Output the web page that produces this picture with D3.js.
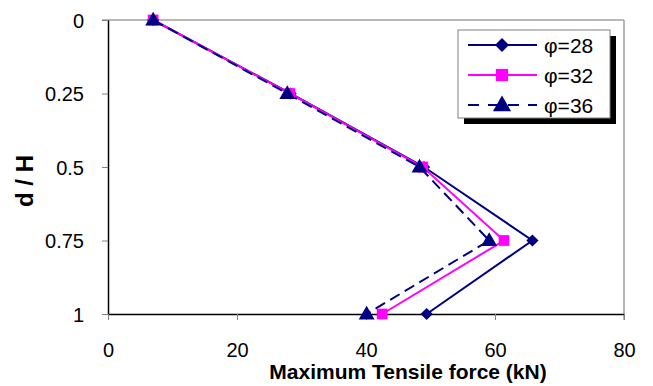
<!DOCTYPE html>
<html>
<head>
<meta charset="utf-8">
<script src="https://cdn.jsdelivr.net/npm/d3@7"></script>
<style>
  body { margin: 0; background: #fff; }
  svg { display: block; font-family: Arial, "Liberation Sans", sans-serif; }
</style>
</head>
<body>
<div id="chart"></div>
<script>
// depth ratio d/H
var depths = [0, 0.25, 0.5, 0.75, 1];
// max tensile force (kN) per friction angle
var phi28 = [7, 28.3, 49, 65.8, 49.4];
var phi32 = [7, 28.2, 48.8, 61.4, 42.5];
var phi36 = [7, 27.8, 48.3, 59.1, 40.1];
var seriesNames = ["φ=28", "φ=32", "φ=36"];
var xTicks = [0, 20, 40, 60, 80];
var yTicks = [0, 0.25, 0.5, 0.75, 1];

var width = 653, height = 386;
var padding = { top: 20, right: 29, bottom: 72, left: 108 };

var svg = d3.select("#chart").append("svg")
  .attr("width", width)
  .attr("height", height);

var xscale = d3.scaleLinear().domain([0, 80])
  .range([padding.left, width - padding.right]);
var yscale = d3.scaleLinear().domain([0, 1])
  .range([padding.top, height - padding.bottom]);

// plot area border: top/right gray, left/bottom black
svg.append("line")
  .attr("x1", xscale(0) - 6).attr("x2", xscale(80))
  .attr("y1", yscale(0)).attr("y2", yscale(0))
  .attr("stroke", "#a0a0a0").attr("stroke-width", 1.5);
svg.append("line")
  .attr("x1", xscale(80)).attr("x2", xscale(80))
  .attr("y1", yscale(0)).attr("y2", yscale(1) + 6)
  .attr("stroke", "#a0a0a0").attr("stroke-width", 1.5);

// axes
var yAxis = svg.append("g")
  .attr("transform", "translate(" + padding.left + ",0)")
  .call(d3.axisLeft(yscale).tickValues(yTicks).tickSize(6).tickSizeOuter(0)
    .tickFormat(function (d) { return d; }));
var xAxis = svg.append("g")
  .attr("transform", "translate(0," + yscale(1) + ")")
  .call(d3.axisBottom(xscale).tickValues(xTicks).tickSize(6).tickSizeOuter(0));

[xAxis, yAxis].forEach(function (g) {
  g.select(".domain").attr("stroke", "#000").attr("stroke-width", 1.5);
  g.selectAll(".tick line").attr("stroke", "#808080").attr("stroke-width", 1);
  g.selectAll(".tick text").attr("fill", "#000").style("font-size", "20px")
    .style("font-family", "Arial, 'Liberation Sans', sans-serif");
});
yAxis.selectAll(".tick text").attr("x", -24).attr("dy", "0.36em");
xAxis.selectAll(".tick text").attr("y", 43).attr("dy", 0);

// axis titles
svg.append("text")
  .attr("x", 408)
  .attr("y", 379)
  .attr("text-anchor", "middle")
  .style("font-size", "21px").style("font-weight", "bold")
  .text("Maximum Tensile force (kN)");
svg.append("text")
  .attr("transform", "translate(33,181) rotate(-90)")
  .attr("text-anchor", "middle")
  .style("font-size", "24px").style("font-weight", "bold")
  .text("d / H");

// diamond = square turned 45deg
var series = [
  { name: seriesNames[0], values: phi28, color: "#000080", dash: null, marker: d3.symbolSquare, size: 75, rot: 45, dy: 0 },
  { name: seriesNames[1], values: phi32, color: "#ff00ff", dash: null, marker: d3.symbolSquare, size: 115, rot: 0, dy: 0 },
  { name: seriesNames[2], values: phi36, color: "#000080", dash: "11,6", marker: d3.symbolTriangle, size: 110, rot: 0, dy: 1 }
];

var line = d3.line()
  .x(function (d) { return xscale(d[0]); })
  .y(function (d) { return yscale(d[1]); });

// lines first, then markers on top
series.forEach(function (s) {
  var pts = s.values.map(function (v, i) { return [v, depths[i]]; });
  svg.append("path")
    .datum(pts)
    .attr("d", line)
    .attr("fill", "none")
    .attr("stroke", s.color)
    .attr("stroke-width", 2)
    .attr("stroke-dasharray", s.dash);
});
series.forEach(function (s) {
  var pts = s.values.map(function (v, i) { return [v, depths[i]]; });
  svg.selectAll(null).data(pts).enter().append("path")
    .attr("transform", function (d) {
      return "translate(" + xscale(d[0]) + "," + (yscale(d[1]) + s.dy) + ") rotate(" + s.rot + ")";
    })
    .attr("d", d3.symbol().type(s.marker).size(s.size))
    .attr("fill", s.color);
});

// legend
var lg = svg.append("g").attr("transform", "translate(458,30)");
lg.append("rect").attr("x", 6).attr("y", 6).attr("width", 152).attr("height", 88).attr("fill", "#000");
lg.append("rect").attr("x", 0).attr("y", 0).attr("width", 152).attr("height", 88)
  .attr("fill", "#fff").attr("stroke", "#808080").attr("stroke-width", 1);
series.forEach(function (s, i) {
  var y = 15 + i * 30;
  lg.append("line")
    .attr("x1", 10).attr("x2", 79).attr("y1", y).attr("y2", y)
    .attr("stroke", s.color).attr("stroke-width", 2)
    .attr("stroke-dasharray", s.dash ? "11,9" : null);
  lg.append("path")
    .attr("transform", "translate(44," + (y + s.dy) + ") rotate(" + s.rot + ")")
    .attr("d", d3.symbol().type(s.marker).size(s.size * 1.3))
    .attr("fill", s.color);
  lg.append("text")
    .attr("x", 86).attr("y", y).attr("dy", "0.36em")
    .style("font-size", "21px")
    .text(s.name);
});
</script>
</body>
</html>
